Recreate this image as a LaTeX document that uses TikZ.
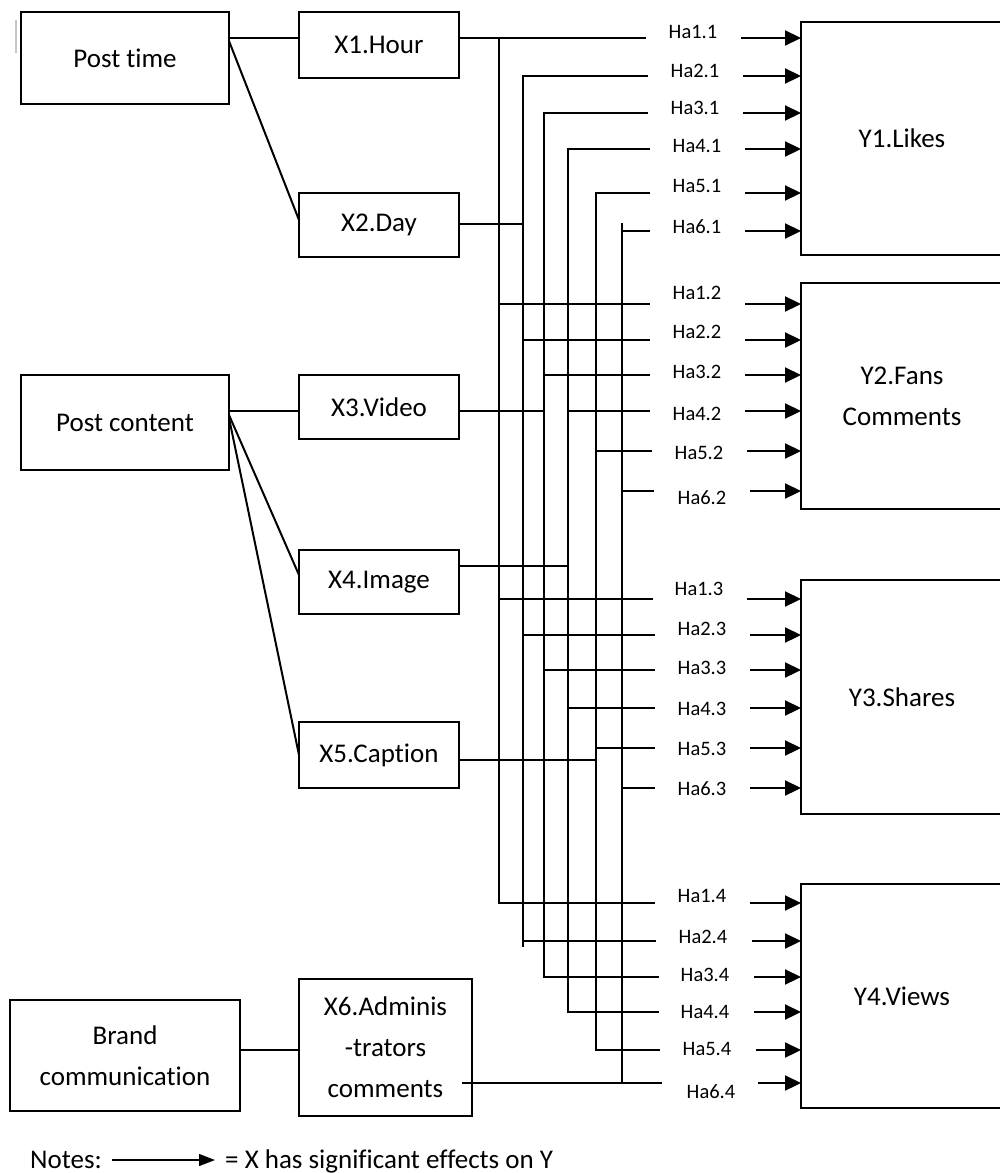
\documentclass[tikz,border=0pt]{standalone}
\usepackage{fontspec}
\setmainfont[Ligatures=NoCommon]{Carlito}
\usetikzlibrary{arrows.meta,calc}
\newcommand\bigtxt{\fontsize{27}{41}\selectfont}
\newcommand\smalltxt{\fontsize{20.5}{23}\selectfont}
\begin{document}
\begin{tikzpicture}[x=1pt,y=-1pt,
  box/.style={draw, line width=2.2pt, inner sep=0pt, outer sep=0pt, align=center, font=\bigtxt},
  wire/.style={line width=2pt},
  arr/.style={line width=2.2pt, -{Triangle[length=16pt,width=15pt]}},
  lab/.style={font=\smalltxt, inner sep=0pt}]
\fill[white] (0,0) rectangle (1000,1173);
\useasboundingbox (0,0) rectangle (1000,1173);
\draw[gray!45, line width=1.2pt] (16,20) -- (16,53);
% left boxes
\node[box, minimum width=208, minimum height=92] (pt) at (125,58) {Post time};
\node[box, minimum width=208, minimum height=95] (pc) at (125,422.5) {Post content};
\node[box, minimum width=230, minimum height=111] (bc) at (125,1055.5) {Brand\\communication};
% X boxes
\node[box, minimum width=160, minimum height=66] (x1) at (379,45) {X1.Hour};
\node[box, minimum width=160, minimum height=64] (x2) at (379,225) {X2.Day};
\node[box, minimum width=160, minimum height=64] (x3) at (379,407) {X3.Video};
\node[box, minimum width=160, minimum height=64] (x4) at (379,582) {X4.Image};
\node[box, minimum width=160, minimum height=66] (x5) at (379,755) {X5.Caption};
\node[box, minimum width=173, minimum height=137] (x6) at (385.5,1047.5) {X6.Adminis\\-trators\\comments};
% Y boxes
\node[box, minimum width=202, minimum height=233] (y1) at (902,138.5) {Y1.Likes};
\node[box, minimum width=202, minimum height=226] (y2) at (902,396) {Y2.Fans\\Comments};
\node[box, minimum width=202, minimum height=234] (y3) at (902,697) {Y3.Shares};
\node[box, minimum width=202, minimum height=224] (y4) at (902,996) {Y4.Views};
% left connectors
\draw[wire] (pt.east |- 0,38) -- (x1.west |- 0,38);
\draw[wire] (pt.east |- 0,41) -- (x2.west |- 0,220);
\draw[wire] (pc.east |- 0,411) -- (x3.west |- 0,411);
\draw[wire] (pc.east |- 0,415) -- (x4.west |- 0,575);
\draw[wire] (pc.east |- 0,418) -- (x5.west |- 0,755);
\draw[wire] (bc.east |- 0,1050) -- (x6.west |- 0,1050);
% X lines into bus
\draw[wire] (x1.east |- 0,38) -- (646,38);
\draw[wire] (x2.east |- 0,224) -- (523,224);
\draw[wire] (x3.east |- 0,411) -- (544,411);
\draw[wire] (x4.east |- 0,566) -- (568,566);
\draw[wire] (x5.east |- 0,760) -- (596,760);
\draw[wire] ($(x6.east |- 0,1083)+(-10,0)$) -- (662,1083);
% verticals with corner rows
\draw[wire] (499,38) -- (499,903) -- (655,903);
\draw[wire] (648,76) -- (523,76) -- (523,947);
\draw[wire] (523,941) -- (656,941);
\draw[wire] (648,113) -- (544,113) -- (544,977) -- (659,977);
\draw[wire] (650,149) -- (568,149) -- (568,1012) -- (659,1012);
\draw[wire] (650,193) -- (596,193) -- (596,1050) -- (660,1050);
\draw[wire] (622,223) -- (622,1083);
\draw[wire] (622,231) -- (650,231);
% middle rows (groups 2 and 3)
\foreach \vx/\ry/\ex in {499/304/650, 523/340/650, 544/375/650, 568/411/650, 596/451/652, 622/491/654,
                         499/599/653, 523/635/655, 544/670/655, 568/708/655, 596/748/655, 622/788/655}
  \draw[wire] (\vx,\ry) -- (\ex,\ry);
% labels and arrows
\foreach \nm/\tx/\ry/\lx/\ly/\as/\yb in {
  a1/Ha1.1/38/693/32/741/y1, a2/Ha2.1/76/695/71/743/y1, a3/Ha3.1/113/695/108/743/y1,
  a4/Ha4.1/149/697/146/745/y1, a5/Ha5.1/193/697/186/745/y1, a6/Ha6.1/231/697/227/745/y1,
  b1/Ha1.2/304/697/293/745/y2, b2/Ha2.2/340/697/332/745/y2, b3/Ha3.2/375/697/372/745/y2,
  b4/Ha4.2/411/697/414/745/y2, b5/Ha5.2/451/699/453/747/y2, b6/Ha6.2/491/702/498/750/y2,
  c1/Ha1.3/599/699/589/747/y3, c2/Ha2.3/635/702/629/750/y3, c3/Ha3.3/670/702/668/750/y3,
  c4/Ha4.3/708/702/709/750/y3, c5/Ha5.3/748/702/749/750/y3, c6/Ha6.3/788/702/789/750/y3,
  d1/Ha1.4/903/702/896/750/y4, d2/Ha2.4/941/703/937/752/y4, d3/Ha3.4/977/705/975/754/y4,
  d4/Ha4.4/1012/705/1012/754/y4, d5/Ha5.4/1050/707/1049/756/y4, d6/Ha6.4/1083/711/1092/758/y4}
{
  \node[lab] (h\nm) at (\lx,\ly) {\tx};
  \coordinate (s\nm) at (\as,\ry);
  \draw[arr] (s\nm) -- (\yb.west |- s\nm);
}
% notes
\node[anchor=base west, font=\bigtxt, inner sep=0pt] (notes) at (30,1168) {Notes:};
\node[anchor=base west, font=\bigtxt, inner sep=0pt] (eq) at (225,1168) {= X has significant effects on Y};
\coordinate (na) at (112,1160);
\coordinate (nb) at (215,1160);
\draw[line width=1.3pt, -{Triangle[length=16pt,width=12pt]}] (na) -- (nb);
\end{tikzpicture}
\end{document}
